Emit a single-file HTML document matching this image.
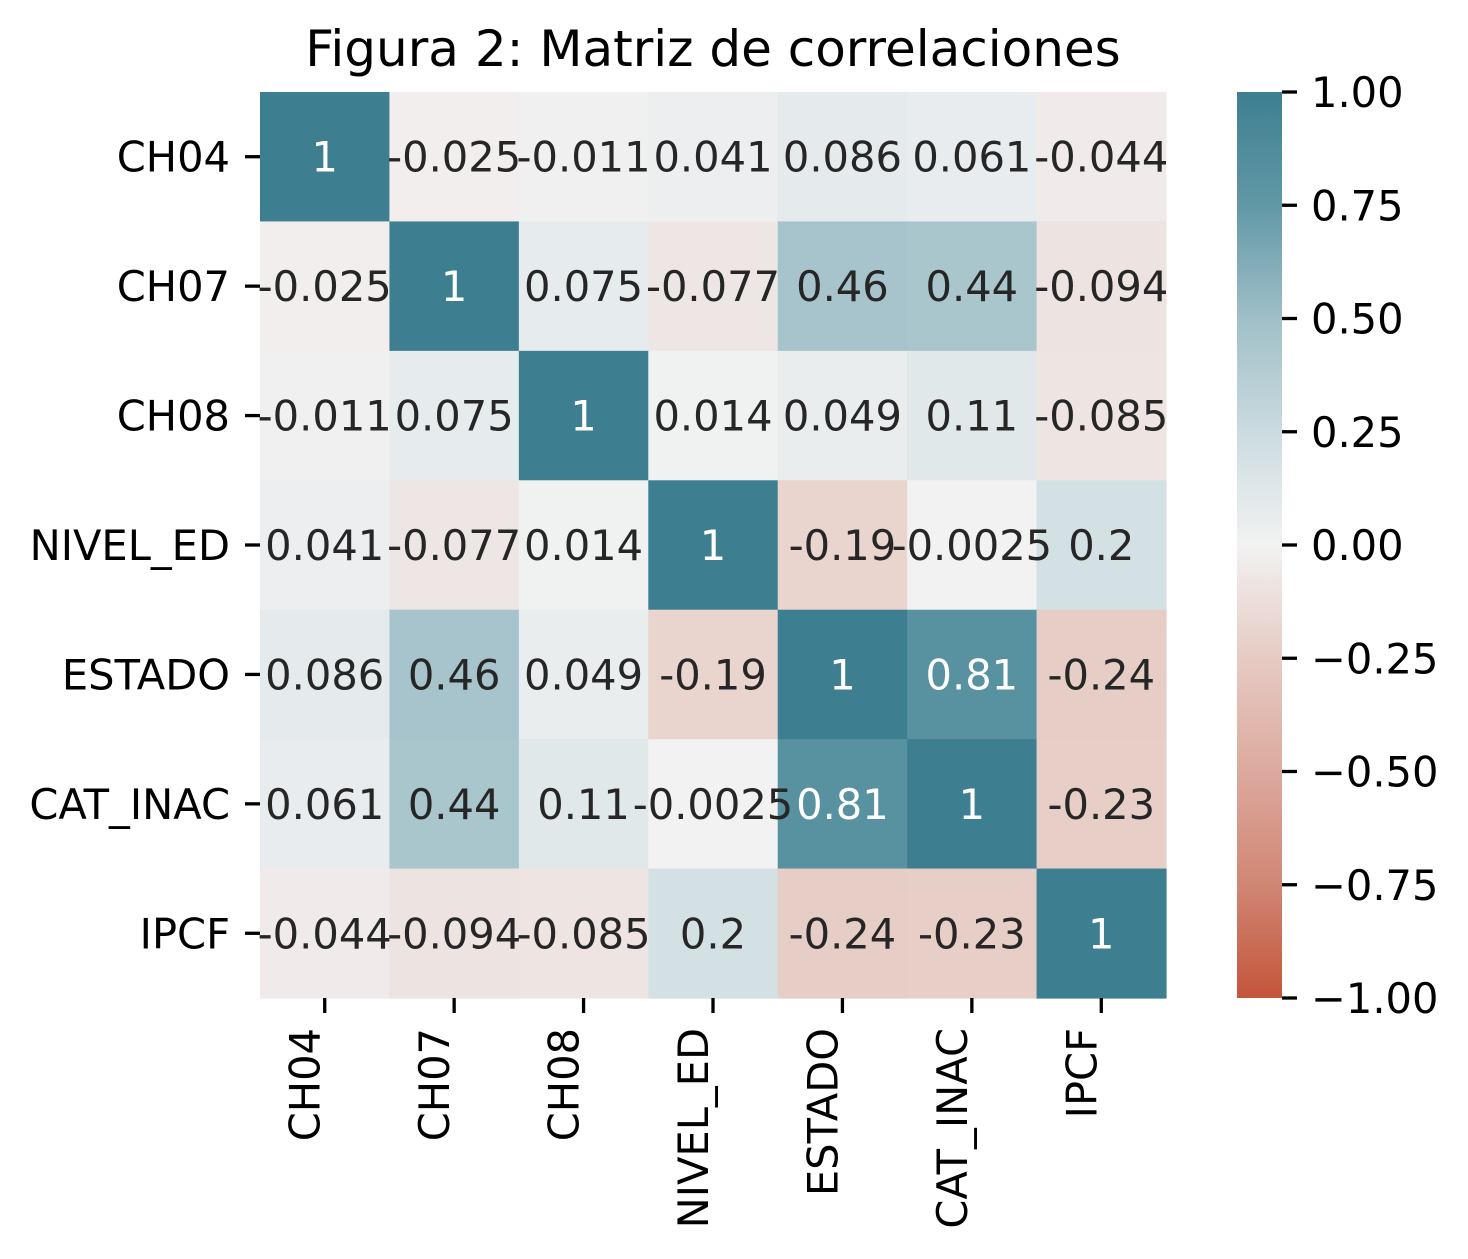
<!DOCTYPE html>
<html><head><meta charset="utf-8"><style>
html,body{margin:0;padding:0;background:#fff;}
svg{display:block;font-family:"DejaVu Sans","Liberation Sans",sans-serif;}
</style></head><body>
<svg id="chart" width="1468" height="1259" xmlns="http://www.w3.org/2000/svg">
<defs><linearGradient id="cbgrad" x1="0" y1="1" x2="0" y2="0"></linearGradient></defs>
<text x="713" y="66" text-anchor="middle" font-size="50" fill="#000">Figura 2: Matriz de correlaciones</text>
<g id="cells"></g><g id="annots"></g><g id="axes"></g><g id="cbar"></g>
</svg>
<script>
const labels = ["CH04","CH07","CH08","NIVEL_ED","ESTADO","CAT_INAC","IPCF"];
const matrix = [
 [1,-0.025,-0.011,0.041,0.086,0.061,-0.044],
 [-0.025,1,0.075,-0.077,0.46,0.44,-0.094],
 [-0.011,0.075,1,0.014,0.049,0.11,-0.085],
 [0.041,-0.077,0.014,1,-0.19,-0.0025,0.2],
 [0.086,0.46,0.049,-0.19,1,0.81,-0.24],
 [0.061,0.44,0.11,-0.0025,0.81,1,-0.23],
 [-0.044,-0.094,-0.085,0.2,-0.24,-0.23,1]
];
const cbTicks = [1,0.75,0.5,0.25,0,-0.25,-0.5,-0.75,-1];
const cbTickLabels = ["1.00","0.75","0.50","0.25","0.00","\u22120.25","\u22120.50","\u22120.75","\u22121.00"];

const NS="http://www.w3.org/2000/svg";
const X0=260,X1=1166,Y0=92,Y1=998;
const cw=(X1-X0)/labels.length, ch=(Y1-Y0)/labels.length;
const stops=[[-1,[195,85,58]],[-0.75,[209,134,116]],[-0.5,[220,169,158]],[-0.25,[230,203,195]],[0,[242,242,242]],[0.25,[203,219,224]],[0.5,[160,191,199]],[0.75,[97,152,166]],[1,[61,127,145]]];
function color(v){
  for(let i=0;i<stops.length-1;i++){
    const [a,ca]=stops[i],[b,cb]=stops[i+1];
    if(v<=b){const t=(v-a)/(b-a);return "rgb("+ca.map((c,k)=>Math.round(c+(cb[k]-c)*t)).join(",")+")";}
  }
  return "rgb(61,127,145)";
}
const cbY=v=>Y1-(v+1)/2*(Y1-Y0);
function el(tag,attrs,parent,text){const e=document.createElementNS(NS,tag);for(const k in attrs)e.setAttribute(k,attrs[k]);if(text!==undefined)e.textContent=text;parent.appendChild(e);return e;}
const cells=document.getElementById('cells'),ann=document.getElementById('annots'),axes=document.getElementById('axes'),cbar=document.getElementById('cbar');
matrix.forEach((row,i)=>row.forEach((v,j)=>{
  const r=el('rect',{x:X0+j*cw,y:Y0+i*ch,width:cw+0.6,height:ch+0.6,fill:color(v)},cells);
  
  
  const t=el('text',{x:X0+(j+0.5)*cw,y:Y0+(i+0.5)*ch+15,'text-anchor':'middle','font-size':'41.6',fill:v>0.6?'#fff':'#262626'},ann,String(v));
  
  
}));
labels.forEach((l,i)=>{
  const y=Y0+(i+0.5)*ch;
  el('line',{x1:X0-15,x2:X0,y1:y,y2:y,stroke:'#000','stroke-width':3.3},axes);
  const t=el('text',{x:X0-30,y:y+15,'text-anchor':'end','font-size':'41.6',fill:'#000'},axes,l);
  
  
  const x=X0+(i+0.5)*cw;
  el('line',{x1:x,x2:x,y1:Y1,y2:Y1+15,stroke:'#000','stroke-width':3.3},axes);
  const tx=el('text',{x:0,y:0,'text-anchor':'end','font-size':'41.6',fill:'#000',transform:`translate(${x-5},${Y1+30}) rotate(-90)`},axes,l);
  
  
});
const g=document.getElementById('cbgrad');
for(let k=0;k<=40;k++){const v=-1+k/20;el('stop',{offset:(k/40),'stop-color':color(v)},g);}
const cb=el('rect',{x:1237,y:Y0,width:45,height:Y1-Y0,fill:'url(#cbgrad)'},cbar);


cbTicks.forEach((v,i)=>{
  const y=cbY(v);
  el('line',{x1:1282,x2:1297,y1:y,y2:y,stroke:'#000','stroke-width':3.3},cbar);
  const t=el('text',{x:1311,y:y+15,'font-size':'41.6',fill:'#000'},cbar,cbTickLabels[i]);
  
  
});
</script>
</body></html>
